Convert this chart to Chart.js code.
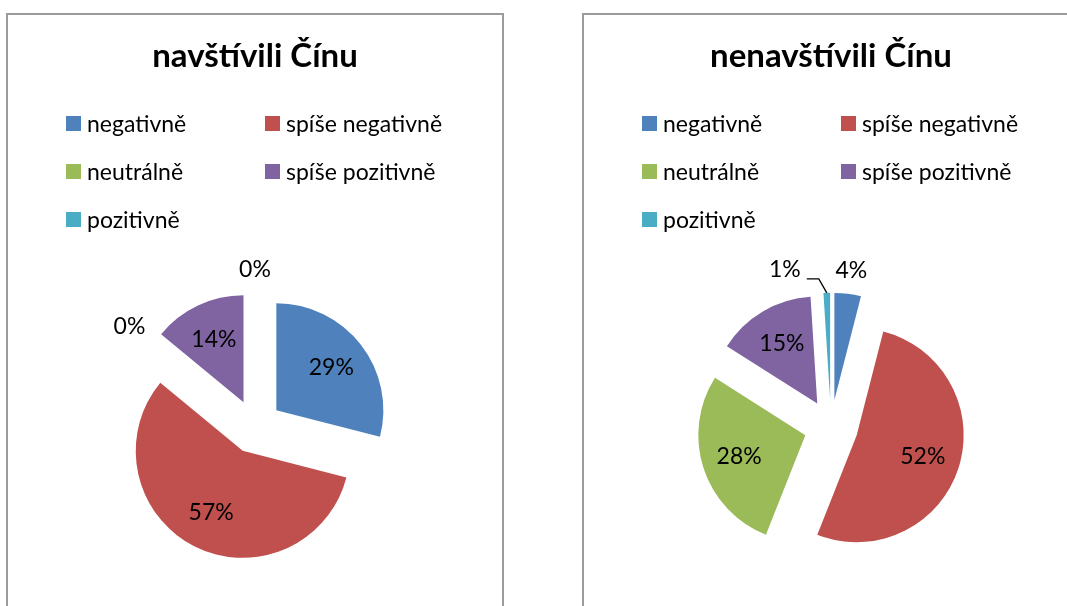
<!DOCTYPE html>
<html><head><meta charset="utf-8">
<script src="https://cdn.jsdelivr.net/npm/chart.js@4.4.1/dist/chart.umd.min.js"></script>
<style>
html,body{margin:0;padding:0;background:#fff;overflow:hidden;width:1067px;height:606px}
.box{position:absolute;top:13px;width:494px;height:640px;border:2px solid #9b9b9b}
canvas{position:absolute;top:13px}
</style></head><body>
<div class="box" style="left:6px"></div>
<div class="box" style="left:582px"></div>
<canvas id="c1" width="496" height="593" style="left:7px;width:496px;height:593px"></canvas>
<canvas id="c2" width="496" height="593" style="left:583px;width:496px;height:593px"></canvas>
<script>
// ---- data ----
const categories = ['negativně', 'spíše negativně', 'neutrálně', 'spíše pozitivně', 'pozitivně'];
const visitedValues = [29, 57, 0, 14, 0];      // navštívili Čínu (%)
const notVisitedValues = [4, 52, 28, 15, 1];   // nenavštívili Čínu (%)
const chartTitles = ['navštívili Čínu', 'nenavštívili Čínu'];
const sliceColors = ['#4F81BD', '#C0504D', '#9BBB59', '#8064A2', '#4BACC6'];

const FONT = 'Lato';

// explode every slice outward along its bisector (pure translation, no shrink)
const explode = {
  id: 'explode',
  afterDatasetUpdate(chart, args, opts) {
    const E = opts.distance || 0;
    args.meta.data.forEach(arc => {
      if (arc._explodedDraw) return;
      const orig = arc.draw;
      arc.draw = function (ctx) {
        const mid = (this.startAngle + this.endAngle) / 2;
        ctx.save();
        ctx.translate(Math.cos(mid) * E, Math.sin(mid) * E);
        orig.call(this, ctx);
        ctx.restore();
      };
      arc._explodedDraw = true;
    });
  }
};

// percentage labels
const pctLabels = {
  id: 'pctLabels',
  afterDatasetsDraw(chart) {
    const ctx = chart.ctx;
    const meta = chart.getDatasetMeta(0);
    const data = chart.data.datasets[0].data;
    const total = data.reduce((a, b) => a + b, 0);
    const R = meta.controller.outerRadius;
    const E = chart.options.plugins.explode.distance || 0;
    ctx.save();
    ctx.font = '23px ' + FONT;
    ctx.fillStyle = '#000';
    ctx.strokeStyle = '#000';
    ctx.lineWidth = 1.3;
    ctx.textBaseline = 'middle';
    const placed = [];
    meta.data.forEach((arc, i) => {
      const pct = Math.round(data[i] / total * 100);
      const txt = pct + '%';
      const mid = (arc.startAngle + arc.endAngle) / 2;
      const dx = Math.cos(mid), dy = Math.sin(mid);
      const cx = arc.x + dx * E, cy = arc.y + dy * E;
      if (pct >= 5) {
        ctx.textAlign = 'center';
        ctx.fillText(txt, cx + dx * R * 0.65, cy + dy * R * 0.65);
        return;
      }
      const w = ctx.measureText(txt).width, h = 20;
      const D = R + 13;
      const tx = cx + dx * (D + w / 2), ty = cy + dy * (D + h / 2);
      const box = [tx - w / 2, ty - h / 2, tx + w / 2, ty + h / 2];
      const hit = placed.some(b => !(box[2] < b[0] || box[0] > b[2] || box[3] < b[1] || box[1] > b[3]));
      if (!hit) {
        ctx.textAlign = 'center';
        ctx.fillText(txt, tx, ty);
        placed.push(box);
      } else {
        const p0 = [cx + dx * R, cy + dy * R];
        const p1 = [p0[0] - 8, p0[1] - 14];
        const p2 = [p1[0] - 12, p1[1]];
        ctx.beginPath();
        ctx.moveTo(p0[0], p0[1]); ctx.lineTo(p1[0], p1[1]); ctx.lineTo(p2[0], p2[1]);
        ctx.stroke();
        ctx.textAlign = 'right';
        ctx.fillText(txt, p2[0] - 6, p2[1] - 9);
        placed.push([p2[0] - 6 - w, p2[1] - 19, p2[0] - 6, p2[1] + 1]);
      }
    });
    ctx.restore();
  }
};

// two-column legend grid
const gridLegend = {
  id: 'gridLegend',
  afterDraw(chart, args, opts) {
    const ctx = chart.ctx;
    const labels = chart.data.labels;
    const bg = chart.data.datasets[0].backgroundColor;
    ctx.save();
    ctx.font = opts.fontSize + 'px ' + FONT;
    ctx.textBaseline = 'middle';
    ctx.textAlign = 'left';
    labels.forEach((lab, i) => {
      const col = i % 2, row = Math.floor(i / 2);
      const x = opts.x + col * opts.colW, y = opts.y + row * opts.rowH;
      ctx.fillStyle = bg[i];
      ctx.fillRect(x, y - 7.5, 15, 15);
      ctx.fillStyle = '#000';
      ctx.fillText(lab, x + 21, y + 1);
    });
    ctx.restore();
  }
};

function makeChart(id, values, title) {
  return new Chart(document.getElementById(id), {
    type: 'pie',
    data: {
      labels: categories,
      datasets: [{
        data: values,
        backgroundColor: sliceColors,
        borderWidth: 0,
        radius: 107,
        clip: false
      }]
    },
    options: {
      responsive: false,
      devicePixelRatio: 1,
      animation: false,
      events: [],
      layout: { padding: 0 },
      plugins: {
        legend: { display: false },
        tooltip: { enabled: false },
        title: {
          display: true,
          text: title,
          color: '#000',
          font: { family: FONT, size: 33, weight: 'bold', lineHeight: 1.2 },
          padding: { top: 24, bottom: 171 }
        },
        explode: { distance: 27 },
        gridLegend: { x: 59, colW: 199, y: 110.5, rowH: 48, fontSize: 23 }
      }
    },
    plugins: [explode, pctLabels, gridLegend]
  });
}

function build() {
  makeChart('c1', visitedValues, chartTitles[0]);
  makeChart('c2', notVisitedValues, chartTitles[1]);
}
if (document.fonts && document.fonts.load) {
  Promise.all([
    document.fonts.load('23px Lato'),
    document.fonts.load('bold 33px Lato')
  ]).then(build, build);
} else {
  build();
}
</script>
</body></html>
